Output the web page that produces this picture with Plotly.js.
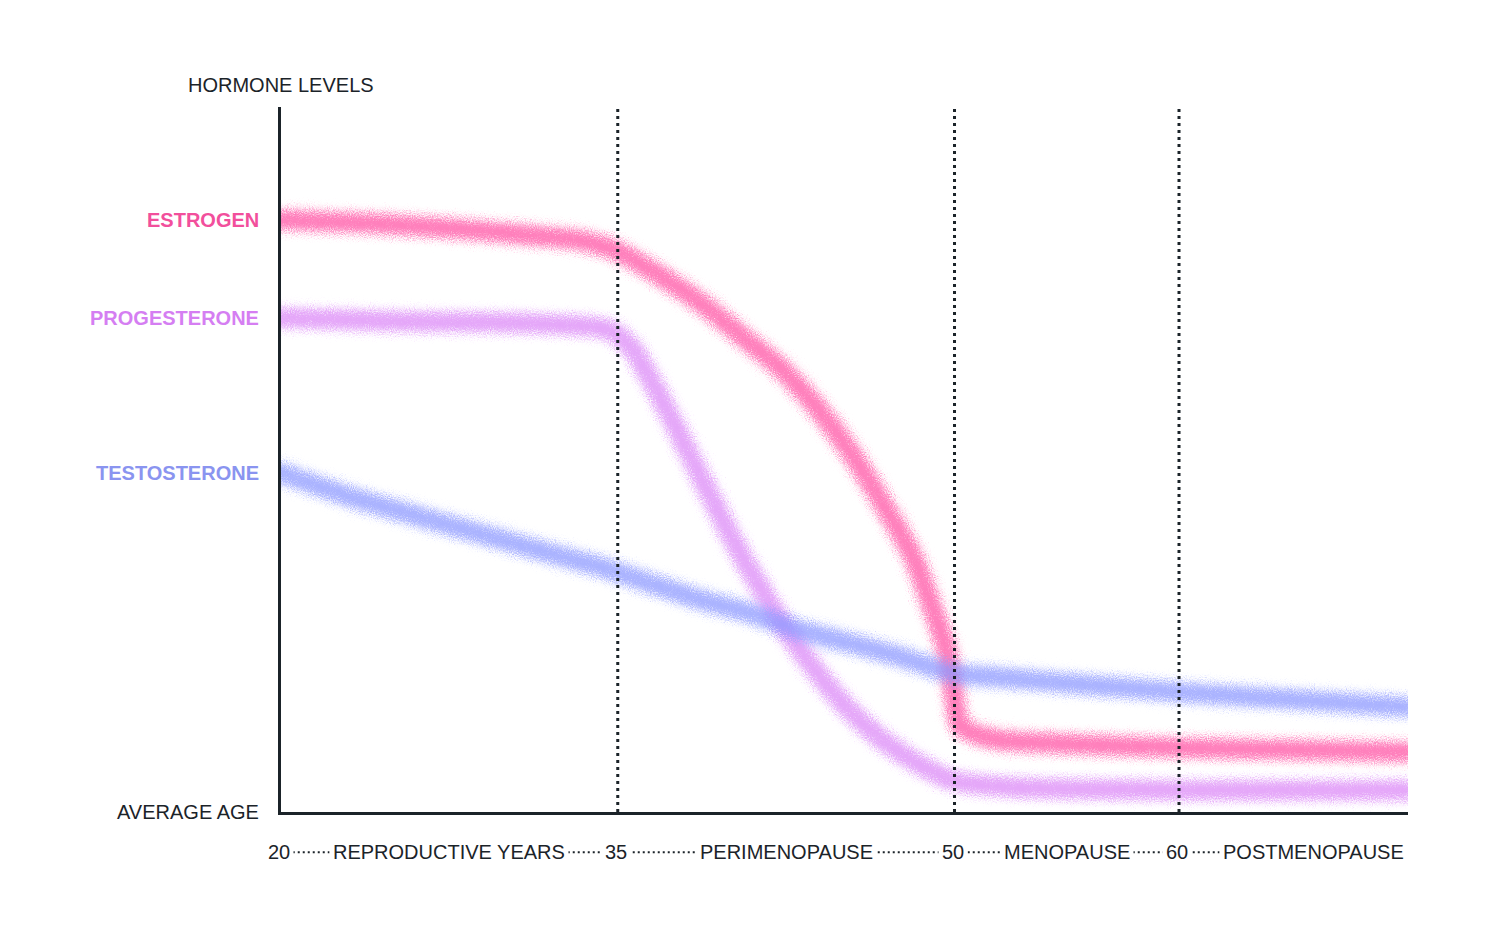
<!DOCTYPE html>
<html>
<head>
<meta charset="utf-8">
<script src="https://cdn.plot.ly/plotly-3.0.1.min.js"></script>
<style>
  html, body { margin: 0; padding: 0; background: #fff; }
  #chart { width: 1500px; height: 936px; }
</style>
</head>
<body>
<div id="chart"></div>
<script>
// hormone curves (age in years, level 0-100)
const estrogenAge = [20, 24, 27.5, 31.1, 33.3, 34.9, 36.4, 38.7, 40.9, 42.2, 43.7, 45.2, 46.7, 48.15, 49.0, 49.65, 49.95, 50.2, 50.8, 52.0, 54.1, 60, 65.4, 70.2];
const estrogen    = [84.0, 83.5, 82.8, 81.8, 81.1, 79.7, 77.0, 72.2, 66.5, 63.1, 58.0, 51.8, 44.3, 36.2, 29.1, 23.0, 17.3, 12.6, 11.2, 10.2, 9.8, 9.1, 8.8, 8.5];

const progAge = [20, 25.3, 30.3, 34.2, 34.9, 35.7, 36.4, 37.2, 38.7, 40.3, 41.6, 42.5, 43.9, 45.3, 46.8, 48.3, 49.9, 52.6, 60, 70.2];
const progesterone = [70.1, 69.6, 69.4, 68.7, 67.9, 65.5, 61.7, 57.0, 47.5, 37.6, 30.5, 25.8, 19.7, 14.5, 10.2, 7.0, 4.5, 3.5, 3.1, 3.1];

const testoAge = [20, 23.1, 27.5, 32.0, 34.2, 36.4, 38.7, 40.9, 43.1, 45.3, 47.6, 49.9, 52.0, 60, 70.2];
const testosterone = [48.1, 44.7, 40.7, 36.7, 34.8, 32.5, 30.1, 28.2, 25.8, 24.0, 22.0, 19.7, 19.1, 17.0, 14.9];

const seriesNames = ['ESTROGEN', 'PROGESTERONE', 'TESTOSTERONE'];
const seriesColors = ['#ff52a4', '#dc88f7', '#8d99ff'];
const labelColors = ['#f24f9c', '#d57ef2', '#8a94f0'];

// stage boundaries along the age axis
const stageAges = [35, 50, 60];
const tickAges = [20, 35, 50, 60];
const stageNames = ['REPRODUCTIVE YEARS', 'PERIMENOPAUSE', 'MENOPAUSE', 'POSTMENOPAUSE'];
const stageCenters = [27.5, 42.5, 55, 70.2];

const ink = '#1b2329';
const xMax = 70.2;
const labelRowY = -0.057;

const xs = [estrogenAge, progAge, testoAge];
const ys = [estrogen, progesterone, testosterone];

const data = seriesNames.map((name, i) => ({
  x: xs[i],
  y: ys[i],
  name: name,
  type: 'scatter',
  mode: 'lines',
  line: {color: seriesColors[i], width: 20, shape: 'spline', smoothing: 0.7},
  opacity: 0.75,
  hoverinfo: 'skip'
}));

const shapes = stageAges.map(a => ({
  type: 'line', xref: 'x', yref: 'y',
  x0: a, x1: a, y0: 0, y1: 100,
  line: {color: ink, width: 3, dash: '3px,4px'},
  layer: 'above'
}));
// dotted connector under the bottom labels
shapes.push({
  type: 'line', xref: 'x', yref: 'paper',
  x0: 20.3, x1: 69.5, y0: labelRowY, y1: labelRowY,
  line: {color: ink, width: 2, dash: '2px,3px'}
});

const baseFont = {family: 'Liberation Sans, Arial, sans-serif', size: 20, color: ink};

const annotations = [];
seriesNames.forEach((name, i) => {
  annotations.push({
    xref: 'paper', yref: 'y', x: -0.018, y: ys[i][0],
    xanchor: 'right', yanchor: 'middle', showarrow: false,
    text: '<b>' + name + '</b>',
    font: Object.assign({}, baseFont, {color: labelColors[i]})
  });
});
annotations.push({
  xref: 'paper', yref: 'y', x: -0.018, y: 0,
  xanchor: 'right', yanchor: 'middle', showarrow: false,
  text: 'AVERAGE AGE', font: baseFont
});
annotations.push({
  xref: 'paper', yref: 'paper', x: 0, y: 1.031,
  xanchor: 'center', yanchor: 'middle', showarrow: false,
  text: 'HORMONE LEVELS', font: baseFont
});
tickAges.forEach(a => {
  annotations.push({
    xref: 'x', yref: 'paper', x: a, y: labelRowY, xshift: -2,
    xanchor: 'center', yanchor: 'middle', showarrow: false,
    text: String(a), font: baseFont, bgcolor: '#fff', borderpad: 3
  });
});
stageNames.forEach((s, i) => {
  const last = i === stageNames.length - 1;
  annotations.push({
    xref: 'x', yref: 'paper', x: stageCenters[i], y: labelRowY,
    xanchor: last ? 'right' : 'center', yanchor: 'middle', showarrow: false,
    text: s, font: baseFont, bgcolor: '#fff', borderpad: 3
  });
});

const layout = {
  width: 1500,
  height: 936,
  margin: {l: 281, r: 92, t: 107, b: 124},
  paper_bgcolor: '#fff',
  plot_bgcolor: '#fff',
  showlegend: false,
  xaxis: {
    range: [20, xMax], showgrid: false, zeroline: false,
    showticklabels: false, ticks: '',
    showline: true, linecolor: ink, linewidth: 3
  },
  yaxis: {
    range: [0, 100], showgrid: false, zeroline: false,
    showticklabels: false, ticks: '',
    showline: true, linecolor: ink, linewidth: 3
  },
  shapes: shapes,
  annotations: annotations
};

Plotly.newPlot('chart', data, layout, {staticPlot: true}).then(gd => {
  // grainy airbrush look for the curves
  const svg = gd.querySelector('.main-svg');
  const ns = 'http://www.w3.org/2000/svg';
  const defs = svg.querySelector('defs');
  const f = document.createElementNS(ns, 'filter');
  f.setAttribute('id', 'spray');
  f.setAttribute('filterUnits', 'userSpaceOnUse');
  f.setAttribute('x', '-300'); f.setAttribute('y', '-300');
  f.setAttribute('width', '2200'); f.setAttribute('height', '1600');
  f.innerHTML =
    '<feGaussianBlur in="SourceGraphic" stdDeviation="4.5" result="b"/>' +
    '<feTurbulence type="fractalNoise" baseFrequency="0.95" numOctaves="2" seed="4" result="n"/>' +
    '<feDisplacementMap in="b" in2="n" scale="18" xChannelSelector="R" yChannelSelector="G"/>';
  defs.appendChild(f);
  gd.querySelectorAll('.cartesianlayer .plot').forEach(g => g.removeAttribute('clip-path'));
  gd.querySelectorAll('.scatterlayer .js-line').forEach(p => {
    p.setAttribute('filter', 'url(#spray)');
    p.style.strokeLinecap = 'round';
  });
});
</script>
</body>
</html>
